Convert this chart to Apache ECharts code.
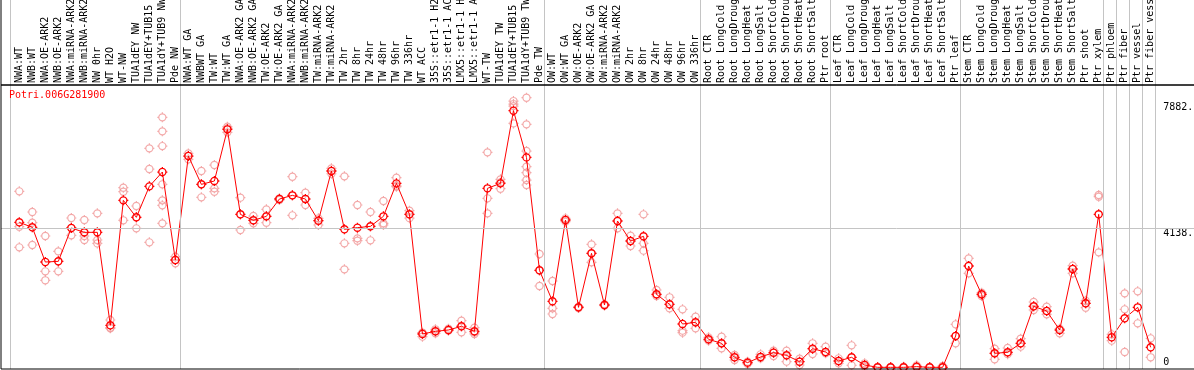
<!DOCTYPE html>
<html><head><meta charset="utf-8">
<script src="https://cdn.jsdelivr.net/npm/echarts@6/dist/echarts.min.js"></script>
<style>html,body{margin:0;padding:0;background:#fff}#c{width:1194px;height:370px}</style>
</head><body><div id="c"></div>
<script>
const geneTitle = 'Potri.006G281900';

const categories = [
  'NWA:WT','NWB:WT','NWA:OE-ARK2','NWB:OE-ARK2','NWA:miRNA-ARK2','NWB:miRNA-ARK2','NW 0hr','WT H2O','WT-NW','TUA1dEY NW','TUA1dEY+TUB15 NW','TUA1dY+TUB9 NW','Pde NW',
  'NWA:WT GA','NWBWT GA','TW:WT','TW:WT GA','NWA:OE-ARK2 GA','NWB:OE-ARK2 GA','TW:OE-ARK2','TW:OE-ARK2 GA','NWA:miRNA-ARK2 GA','NWB:miRNA-ARK2 GA','TW:miRNA-ARK2','TW:miRNA-ARK2','TW 2hr','TW 8hr','TW 24hr','TW 48hr','TW 96hr','TW 336hr','WT ACC','35S::etr1-1 H2O','35S::etr1-1 ACC','LMX5::etr1-1 H2O','LMX5::etr1-1 ACC','WT-TW','TUA1dEY TW','TUA1dEY+TUB15 TW','TUA1dY+TUB9 TW','Pde TW',
  'OW:WT','OW:WT GA','OW:OE-ARK2','OW:OE-ARK2 GA','OW:miRNA-ARK2','OW:miRNA-ARK2','OW 2hr','OW 8hr','OW 24hr','OW 48hr','OW 96hr','OW 336hr',
  'Root CTR','Root LongCold','Root LongDrought','Root LongHeat','Root LongSalt','Root ShortCold','Root ShortDrought','Root ShortHeat','Root ShortSalt','Ptr root',
  'Leaf CTR','Leaf LongCold','Leaf LongDrought','Leaf LongHeat','Leaf LongSalt','Leaf ShortCold','Leaf ShortDrought','Leaf ShortHeat','Leaf ShortSalt','Ptr leaf',
  'Stem CTR','Stem LongCold','Stem LongDrought','Stem LongHeat','Stem LongSalt','Stem ShortCold','Stem ShortDrought','Stem ShortHeat','Stem ShortSalt','Ptr shoot','Ptr xylem',
  'Ptr phloem','Ptr fiber','Ptr vessel','Ptr fiber vessel'
];

// category-index boundaries where group separator lines are drawn
const groupBounds = [0, 13, 41, 53, 63, 73, 84, 85, 86, 87, 88];

const means = [
  4316, 4168, 3137, 3157, 4148, 4019, 4019, 1256, 4969, 4465, 5385, 5811, 3197,
  6286, 5445, 5544, 7079, 4554, 4376, 4494, 5009, 5118, 5009, 4366, 5841, 4108, 4158, 4197, 4494, 5474, 4554, 998, 1077, 1117, 1226, 1077, 5326, 5474, 7633, 6246, 2890,
  1969, 4385, 1790, 3395, 1860, 4356, 3761, 3900, 2177, 1880, 1295, 1345,
  840, 721, 305, 147, 315, 444, 364, 176, 562, 463,
  196, 305, 77, 8, 8, 8, 28, 8, 8, 938,
  3018, 2177, 424, 454, 721, 1820, 1682, 1117, 2929, 1909, 4554,
  899, 1464, 1790, 602
];

const replicates = [
  [5237, 4187, 3573], [4623, 4306, 3642], [3910, 2860, 2593], [3454, 3157, 2860], [4445, 4148, 3930],
  [4385, 3910, 3791], [4583, 3791, 3690], [1414, 1186, 1167], [5346, 5227, 4376], [4801, 4465, 4138],
  [6514, 5900, 3722], [7435, 7019, 6582, 5445, 4969, 4821, 4286], [3296, 3197, 3098],
  [6365, 6286, 6187], [5841, 5445, 5059], [6019, 5326, 5227], [7158, 7108, 6990], [5049, 4554, 4088],
  [4504, 4376, 4286], [4702, 4494, 4306], [5029, 5009, 4979], [5672, 5118, 4524], [5197, 5009, 4831],
  [4435, 4366, 4237], [5920, 5841, 5760], [5682, 3692, 2919], [4831, 3840, 3771], [4623, 4197, 3781],
  [4950, 4286, 4237], [5643, 5400, 5375], [4662, 4554, 4440], [1038, 1030, 919], [1137, 1077, 1018],
  [1157, 1117, 1097], [1394, 1230, 1048], [1186, 1050, 1000], [6395, 5029, 4583], [5593, 5500, 5316],
  [7920, 7831, 7770, 7256], [8019, 7227, 6435, 5969, 5791, 5573, 5425], [3375, 2890, 2424],
  [2573, 1761, 1592], [4435, 4385, 4336], [1810, 1790, 1770], [3662, 3395, 3127], [1880, 1860, 1840],
  [4583, 4356, 4138], [3920, 3761, 3613], [4554, 3692, 3474], [2305, 2177, 2127], [2088, 1880, 1761],
  [1731, 1097, 1038], [1513, 1345, 1167],
  [899, 840, 800], [919, 721, 572], [374, 305, 226], [176, 147, 110], [394, 315, 275],
  [503, 444, 345], [503, 364, 176], [265, 176, 77], [721, 562, 404], [622, 463, 424],
  [275, 196, 127], [661, 305, 67], [127, 77, 28], [20, 8, 0], [20, 8, 0],
  [28, 8, 0], [67, 28, 0], [20, 8, 0], [48, 8, 0], [1285, 938, 721],
  [3246, 3018, 2800], [2226, 2177, 2127], [562, 424, 246], [582, 454, 400], [860, 721, 622],
  [1949, 1820, 1711], [1810, 1682, 1582], [1157, 1117, 1018], [3028, 2929, 2800], [1989, 1909, 1780],
  [5128, 5078, 3424],
  [988, 800], [2206, 1731, 463], [2266, 1315], [869, 305]
];

const yTicks = [0, 4138, 7882];
const yTickLabels = ['0', '4138.', '7882.'];
const yRange = [-42, 8397];

const FONT = 'DejaVu Sans Mono';
const ring = 'path://M5,0A5,5,0,1,1,-5,0A5,5,0,1,1,5,0ZM0,-7L0,-5M0,5L0,7M-7,0L-5,0M5,0L7,0';

const chart = echarts.init(document.getElementById('c'), null, {renderer: 'canvas'});

const hiddenVal = (grid, extra) => Object.assign({type: 'value', gridIndex: grid, show: false}, extra || {});
const yLabelAxis = (values, vAlign) => ({
  type: 'value', gridIndex: 1, position: 'right', min: yRange[0], max: yRange[1],
  axisLine: {show: false}, axisTick: {show: false}, splitLine: {show: false},
  axisLabel: {
    customValues: values, margin: 6, align: 'left', verticalAlign: vAlign,
    fontFamily: FONT, fontSize: 10, color: '#000',
    formatter: v => yTickLabels[yTicks.indexOf(v)]
  }
});
const G = {outerBoundsMode: 'none', containLabel: false};

chart.setOption({
  animation: false,
  backgroundColor: '#fff',
  title: {
    text: geneTitle, left: 9, top: 90, padding: 0,
    textStyle: {fontFamily: FONT, fontSize: 10, fontWeight: 'normal', color: '#ff0000'}
  },
  grid: [
    Object.assign({left: 10.7, right: 38.6, top: 0, bottom: 1}, G),
    Object.assign({left: 12.8, right: 36.8, top: 85, bottom: 1}, G),
    Object.assign({left: 1, right: -2, top: 85, bottom: 1, show: true, borderColor: '#000', borderWidth: 1, backgroundColor: 'transparent', z: 10}, G),
    Object.assign({left: 1, right: -2, top: -2, height: 87, show: true, borderColor: '#000', borderWidth: 1, backgroundColor: 'transparent', z: 10}, G)
  ],
  xAxis: [
    hiddenVal(0, {min: 0, max: categories.length}),
    {
      type: 'category', gridIndex: 1, data: categories, position: 'top', boundaryGap: true,
      axisLine: {show: false}, axisTick: {show: false}, splitLine: {show: false},
      axisLabel: {interval: 0, rotate: 90, margin: 2, fontFamily: FONT, fontSize: 10, color: '#000'}
    },
    hiddenVal(2, {min: 0, max: 1}),
    hiddenVal(3, {min: 0, max: 1})
  ],
  yAxis: [
    hiddenVal(0, {min: 0, max: 1}),
    yLabelAxis(yTicks.slice(1), 'top'),
    yLabelAxis([yTicks[0]], 'bottom'),
    hiddenVal(2, {min: yRange[0], max: yRange[1]}),
    hiddenVal(3, {min: 0, max: 1})
  ],
  series: [
    {
      type: 'line', xAxisIndex: 0, yAxisIndex: 0, data: [[0, 0]], symbol: 'none', lineStyle: {width: 0}, silent: true,
      markLine: {
        silent: true, symbol: ['none', 'none'], label: {show: false},
        lineStyle: {color: '#c4c4c4', type: 'solid', width: 1},
        data: groupBounds.map(b => ({xAxis: b}))
      }
    },
    {
      type: 'line', xAxisIndex: 2, yAxisIndex: 3, data: [[0, 0]], symbol: 'none', lineStyle: {width: 0}, silent: true,
      markLine: {
        silent: true, symbol: ['none', 'none'], label: {show: false},
        lineStyle: {color: '#c4c4c4', type: 'solid', width: 1},
        data: [{yAxis: yTicks[1]}]
      }
    },
    {
      type: 'scatter', xAxisIndex: 1, yAxisIndex: 1, z: 3,
      data: replicates.flatMap((arr, i) => arr.map(v => [i, v])),
      symbol: ring, symbolSize: 10,
      itemStyle: {color: 'transparent', borderColor: '#f09494', borderWidth: 1.2}
    },
    {
      type: 'line', xAxisIndex: 1, yAxisIndex: 1, z: 4,
      data: means.map((v, i) => [i, v]),
      symbol: ring, symbolSize: 10, showAllSymbol: true,
      lineStyle: {color: '#ff0000', width: 1},
      itemStyle: {color: 'transparent', borderColor: '#ff0000', borderWidth: 1.3}
    }
  ]
});
</script>
</body></html>
